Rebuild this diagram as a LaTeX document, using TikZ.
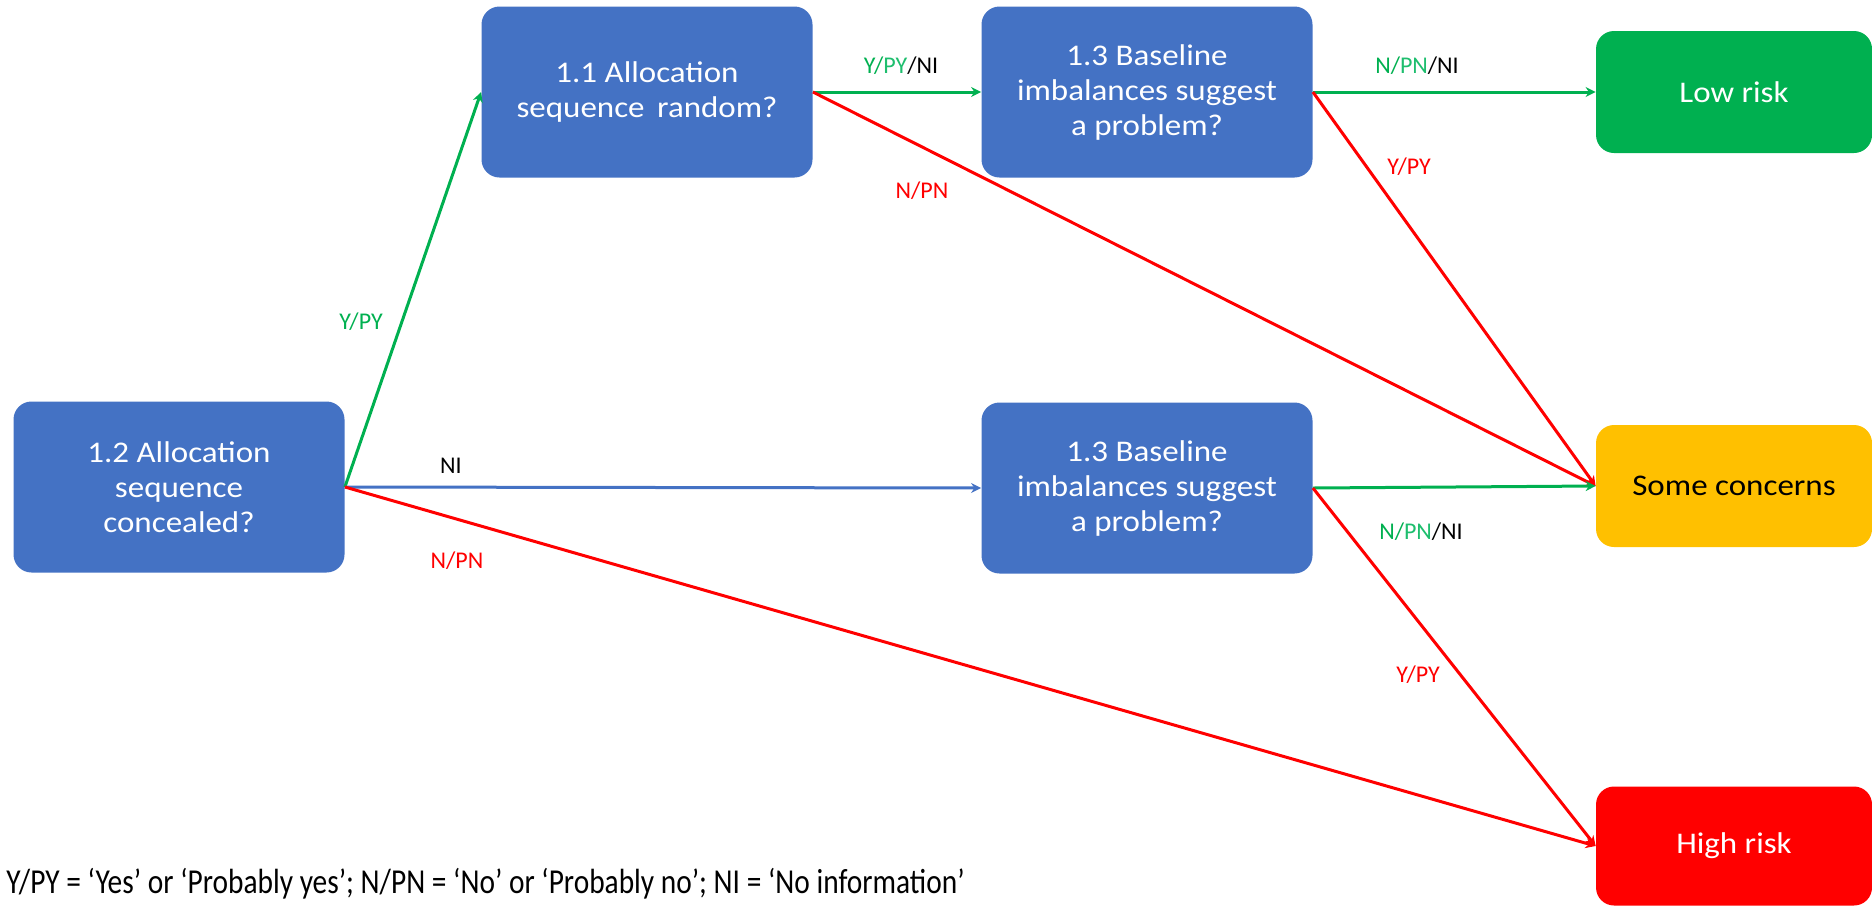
\documentclass[tikz,border=0pt]{standalone}
\usepackage{fontspec}
\setmainfont{Carlito}
\newfontfamily\boxfont{Carlito}[FakeStretch=1.1]
\newfontfamily\footfont{Carlito}[FakeStretch=0.84]
\usetikzlibrary{arrows.meta}
\definecolor{boxblue}{RGB}{68,114,196}
\definecolor{okgreen}{RGB}{0,176,80}
\definecolor{lightgreen}{RGB}{30,190,110}
\definecolor{concern}{RGB}{255,192,0}
\definecolor{hired}{RGB}{255,0,0}
\tikzset{
  qbox/.style={rectangle, rounded corners=9pt, fill=boxblue, text=white, align=center,
    minimum width=165.5pt, minimum height=85.5pt, inner sep=0pt,
    font=\boxfont\fontsize{15pt}{17.5pt}\selectfont},
  rbox/.style={rectangle, rounded corners=9pt, align=center,
    minimum width=138pt, minimum height=61pt, inner sep=0pt,
    font=\boxfont\fontsize{15pt}{17.5pt}\selectfont},
  conn/.style={line width=1.5pt, -{Stealth[length=5pt,width=5pt]}},
  lab/.style={font=\fontsize{12pt}{14pt}\selectfont, inner sep=0pt},
}
\begin{document}
\begin{tikzpicture}[x=0.5pt,y=-0.5pt]
\useasboundingbox (0,0) rectangle (1872,906);
% question boxes
\node[qbox] (q12) at (179,487) {1.2 Allocation\\sequence\\concealed?};
\node[qbox] (q11) at (647,92) {1.1 Allocation\\sequence\, random?};
\node[qbox] (q13a) at (1147,92) {1.3 Baseline\\imbalances suggest\\a problem?};
\node[qbox] (q13b) at (1147,488) {1.3 Baseline\\imbalances suggest\\a problem?};
% result boxes
\node[rbox, fill=okgreen, text=white] (low) at (1734,92) {Low risk};
\node[rbox, fill=concern, text=black] (some) at (1734,486) {Some concerns};
\node[rbox, fill=hired, text=white, minimum height=59.5pt] (high) at (1734,846) {High risk};
% connectors
\draw[conn, okgreen] (q12.east) -- (q11.west);
\draw[conn, boxblue] (q12.east) -- (q13b.west);
\draw[conn, hired] (q12.east) -- (high.west);
\draw[conn, okgreen] (q11.east) -- (q13a.west);
\draw[conn, hired] (q11.east) -- (some.west);
\draw[conn, okgreen] (q13a.east) -- (low.west);
\draw[conn, hired] (q13a.east) -- (some.west);
\draw[conn, okgreen] (q13b.east) -- (some.west);
\draw[conn, hired] (q13b.east) -- (high.west);
% labels
\node[lab, text=okgreen] (l1) at (361,322) {Y/PY};
\node[lab, text=black] (l2) at (451,466) {NI};
\node[lab, text=hired] (l3) at (457,561) {N/PN};
\node[lab] (l4) at (901,66) {\textcolor{okgreen}{Y/}\textcolor{lightgreen}{PY}/NI};
\node[lab, text=hired] (l5) at (922,191) {N/PN};
\node[lab] (l6) at (1417,66) {\textcolor{okgreen}{N/}\textcolor{lightgreen}{PN}/NI};
\node[lab, text=hired] (l7) at (1409,167) {Y/PY};
\node[lab] (l8) at (1421,532) {\textcolor{okgreen}{N/}\textcolor{lightgreen}{PN}/NI};
\node[lab, text=hired] (l9) at (1418,675) {Y/PY};
% footnote
\node[anchor=west, inner sep=0pt, font=\footfont\fontsize{17.5pt}{20pt}\selectfont] (foot) at (6,884)
  {Y/PY = ‘Yes’ or ‘Probably yes’; N/PN = ‘No’ or ‘Probably no’; NI = ‘No information’};
\end{tikzpicture}
\end{document}
